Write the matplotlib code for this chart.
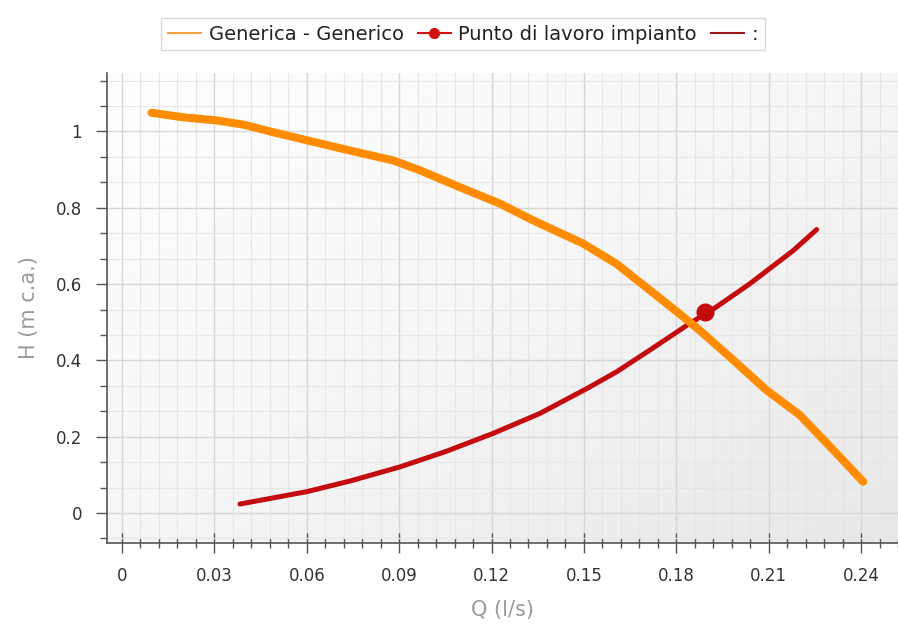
import numpy as np
import matplotlib
matplotlib.use("Agg")
import matplotlib.pyplot as plt
from matplotlib.lines import Line2D
from matplotlib.ticker import MultipleLocator

# Pump curve (Generica - Generico)
pump_q = [0.0096, 0.0199, 0.0307, 0.0394, 0.0491, 0.0605, 0.074, 0.0881, 0.0968,
          0.1097, 0.1227, 0.1335, 0.1498, 0.1606, 0.1714, 0.1823, 0.1877, 0.1985,
          0.2093, 0.2201, 0.231, 0.2407]
pump_h = [1.049, 1.037, 1.029, 1.018, 0.998, 0.976, 0.950, 0.924, 0.898,
          0.854, 0.811, 0.767, 0.706, 0.653, 0.584, 0.514, 0.478, 0.401,
          0.322, 0.257, 0.165, 0.082]

# System curve
sys_q = [0.0383, 0.047, 0.060, 0.074, 0.0903, 0.1054, 0.1206, 0.1357, 0.1509,
         0.1606, 0.1714, 0.1844, 0.193, 0.2039, 0.218, 0.2256]
sys_h = [0.0236, 0.0366, 0.056, 0.0838, 0.121, 0.162, 0.209, 0.261, 0.326,
         0.370, 0.427, 0.497, 0.540, 0.601, 0.688, 0.743]

# Working point
wp_q = [0.1893]
wp_h = [0.527]

x_ticks = [0, 0.03, 0.06, 0.09, 0.12, 0.15, 0.18, 0.21, 0.24]
x_tick_labels = ["0", "0.03", "0.06", "0.09", "0.12", "0.15", "0.18", "0.21", "0.24"]
y_ticks = [0, 0.2, 0.4, 0.6, 0.8, 1.0]
y_tick_labels = ["0", "0.2", "0.4", "0.6", "0.8", "1"]

legend_labels = ["Generica - Generico", "Punto di lavoro impianto", ":"]

plt.rcParams['font.family'] = ['DejaVu Sans']

fig = plt.figure(figsize=(8.98, 6.29), dpi=100)
ax = fig.add_axes([107/898, 86/629, 1 - 107/898, (543 - 72.7)/629])

xmin, xmax = -0.00487, 0.252
ymin, ymax = -0.0785, 1.154
ax.set_xlim(xmin, xmax)
ax.set_ylim(ymin, ymax)

# gradient background
gx = np.linspace(0, 1, 200)
gy = np.linspace(0, 1, 200)
GX, GY = np.meshgrid(gx, gy)
G = (GX + GY) / 2.0
cmap = matplotlib.colors.LinearSegmentedColormap.from_list("bg", ["#ffffff", "#f6f6f6", "#e8e8e8"])
ax.imshow(G, extent=[xmin, xmax, ymin, ymax], origin="upper", aspect="auto",
          cmap=cmap, zorder=0, interpolation="bilinear")

ax.xaxis.set_major_locator(MultipleLocator(0.03))
ax.xaxis.set_minor_locator(MultipleLocator(0.006))
ax.yaxis.set_major_locator(MultipleLocator(0.2))
ax.yaxis.set_minor_locator(MultipleLocator(0.2/3))
ax.set_xticks(x_ticks)
ax.set_xticklabels(x_tick_labels)
ax.set_yticks(y_ticks)
ax.set_yticklabels(y_tick_labels)

ax.grid(which="major", color="#d6d6d6", linewidth=1.0, zorder=1)
ax.grid(which="minor", color="#e6e6e6", linewidth=0.8, zorder=1)
ax.set_axisbelow(True)

for s in ["top", "right"]:
    ax.spines[s].set_visible(False)
for s in ["left", "bottom"]:
    ax.spines[s].set_color("#555555")
    ax.spines[s].set_linewidth(1.2)

ax.tick_params(axis="x", which="major", direction="inout", length=14, width=1, color="#555555",
               labelsize=12, labelcolor="#333333", pad=10)
ax.tick_params(axis="x", which="minor", direction="inout", length=7, width=1, color="#555555")
ax.tick_params(axis="y", which="major", direction="out", length=8, width=1, color="#555555",
               labelsize=12, labelcolor="#333333", pad=10)
ax.tick_params(axis="y", which="minor", direction="out", length=5, width=1, color="#555555")

ax.set_xlabel("Q (l/s)", fontsize=15, color="#9a9a9a", labelpad=11)
ax.set_ylabel("H (m c.a.)", fontsize=15, color="#9a9a9a", labelpad=12)

ax.plot(sys_q, sys_h, color="#c40c10", linewidth=3.6, solid_capstyle="round",
        solid_joinstyle="round", zorder=3)
ax.plot(pump_q, pump_h, color="#ff8c00", linewidth=5.8, solid_capstyle="round",
        solid_joinstyle="round", zorder=4)
ax.plot(wp_q, wp_h, marker="o", linestyle="none", color="#c40c10", markersize=12, zorder=5)

handles = [
    Line2D([], [], color="#f5a040", linewidth=1.5),
    Line2D([], [], color="#d01010", linewidth=1.5, marker="o", markersize=7),
    Line2D([], [], color="#9a1a20", linewidth=1.5),
]
leg = fig.legend(handles, legend_labels, loc="upper center", bbox_to_anchor=(463/898, 1 - 8/629),
                 ncol=3, frameon=True, fancybox=False, fontsize=14, handlelength=1.7,
                 handletextpad=0.4, columnspacing=0.7, borderpad=0.35, labelcolor="#222222")
leg.get_frame().set_edgecolor("#d0d0d0")
leg.get_frame().set_linewidth(1.0)

fig.savefig("out.png", dpi=100, facecolor="white")
